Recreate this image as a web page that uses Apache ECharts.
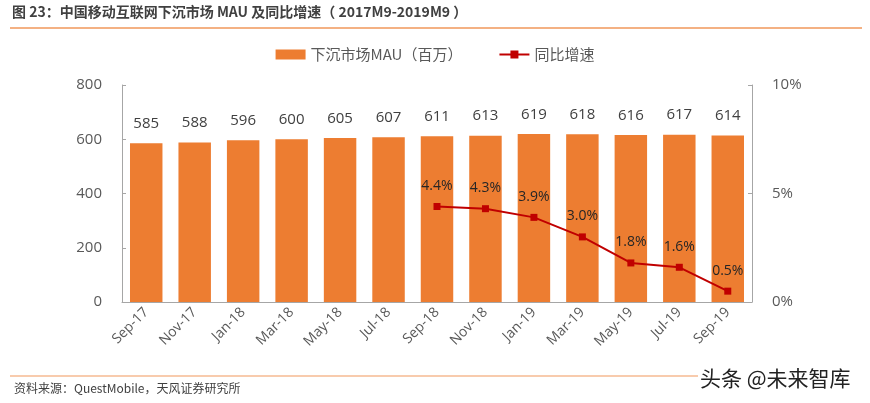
<!DOCTYPE html>
<html><head><meta charset="utf-8">
<script src="https://cdn.jsdelivr.net/npm/echarts@6/dist/echarts.min.js"></script>
<style>html,body{margin:0;padding:0;background:#fff}#c{width:870px;height:403px}</style>
</head><body><div id="c"></div>
<script>
const categories = ['Sep-17','Nov-17','Jan-18','Mar-18','May-18','Jul-18','Sep-18','Nov-18','Jan-19','Mar-19','May-19','Jul-19','Sep-19'];
const mau = [585,588,596,600,605,607,611,613,619,618,616,617,614];
const growth = [null,null,null,null,null,null,4.4,4.3,3.9,3.0,1.8,1.6,0.5];
const leftTicks = [0,200,400,600,800];
const rightTicks = [0,5,10];

const FF = '"Open Sans","Noto Sans CJK SC",sans-serif';
const chart = echarts.init(document.getElementById('c'));
chart.setOption({
  animation:false,
  textStyle:{fontFamily:FF},
  graphic:[
    {type:'text',left:12,top:5,style:{text:'图 23：中国移动互联网下沉市场 MAU 及同比增速（ 2017M9-2019M9 ）',font:'bold 14px "Noto Sans CJK SC",sans-serif',fill:'#404040'}},
    {type:'rect',shape:{x:10,y:27,width:852,height:2},style:{fill:'#F4B183'}},
    {type:'rect',shape:{x:10,y:375,width:852,height:2},style:{fill:'#F8CBAD'}},
    {type:'text',left:14,top:382,style:{text:'资料来源：QuestMobile，天风证券研究所',font:'12px "Noto Sans CJK SC",sans-serif',fill:'#404040'}},
    {type:'rect',shape:{x:698,y:366,width:168,height:30},style:{fill:'#fff'}},
    {type:'text',left:700,top:368,style:{text:'头条 @未来智库',font:'21px "Noto Sans CJK SC",sans-serif',fill:'#222'}}
  ],
  legend:{top:42,left:'center',itemGap:36,itemWidth:30,itemHeight:10,
    textStyle:{fontSize:15,color:'#595959',fontFamily:'"Noto Sans CJK SC",sans-serif'},
    data:[{name:'下沉市场MAU（百万）',icon:'rect'},{name:'同比增速'}]},
  grid:{left:122,right:118,top:85,bottom:101},
  xAxis:{type:'category',data:categories,
    axisLine:{lineStyle:{color:'#A6A6A6'}},
    axisTick:{inside:true,length:4,lineStyle:{color:'#A6A6A6'}},
    axisLabel:{rotate:45,color:'#595959',fontSize:14,margin:8,interval:0}},
  yAxis:[
    {type:'value',min:0,max:800,interval:200,splitLine:{show:false},
     axisLine:{show:true,lineStyle:{color:'#A6A6A6'}},
     axisTick:{show:true,inside:true,length:4,lineStyle:{color:'#A6A6A6'}},
     axisLabel:{color:'#595959',fontSize:15,margin:20}},
    {type:'value',min:0,max:10,interval:5,splitLine:{show:false},
     axisLine:{show:true,lineStyle:{color:'#A6A6A6'}},
     axisTick:{show:true,inside:true,length:4,lineStyle:{color:'#A6A6A6'}},
     axisLabel:{color:'#595959',fontSize:15,margin:20,formatter:v=>v+'%'}}
  ],
  series:[
    {name:'下沉市场MAU（百万）',type:'bar',data:mau,barWidth:'67%',
     itemStyle:{color:'#ED7D31'},
     label:{show:true,position:'top',distance:12,color:'#404040',fontSize:15}},
    {name:'同比增速',type:'line',yAxisIndex:1,data:growth,
     symbol:'rect',symbolSize:7,
     lineStyle:{color:'#C00000',width:2},itemStyle:{color:'#C00000'},
     label:{show:true,position:'top',distance:10,color:'#262626',fontSize:14,formatter:p=>p.value.toFixed(1)+'%'}}
  ]
});
</script></body></html>
